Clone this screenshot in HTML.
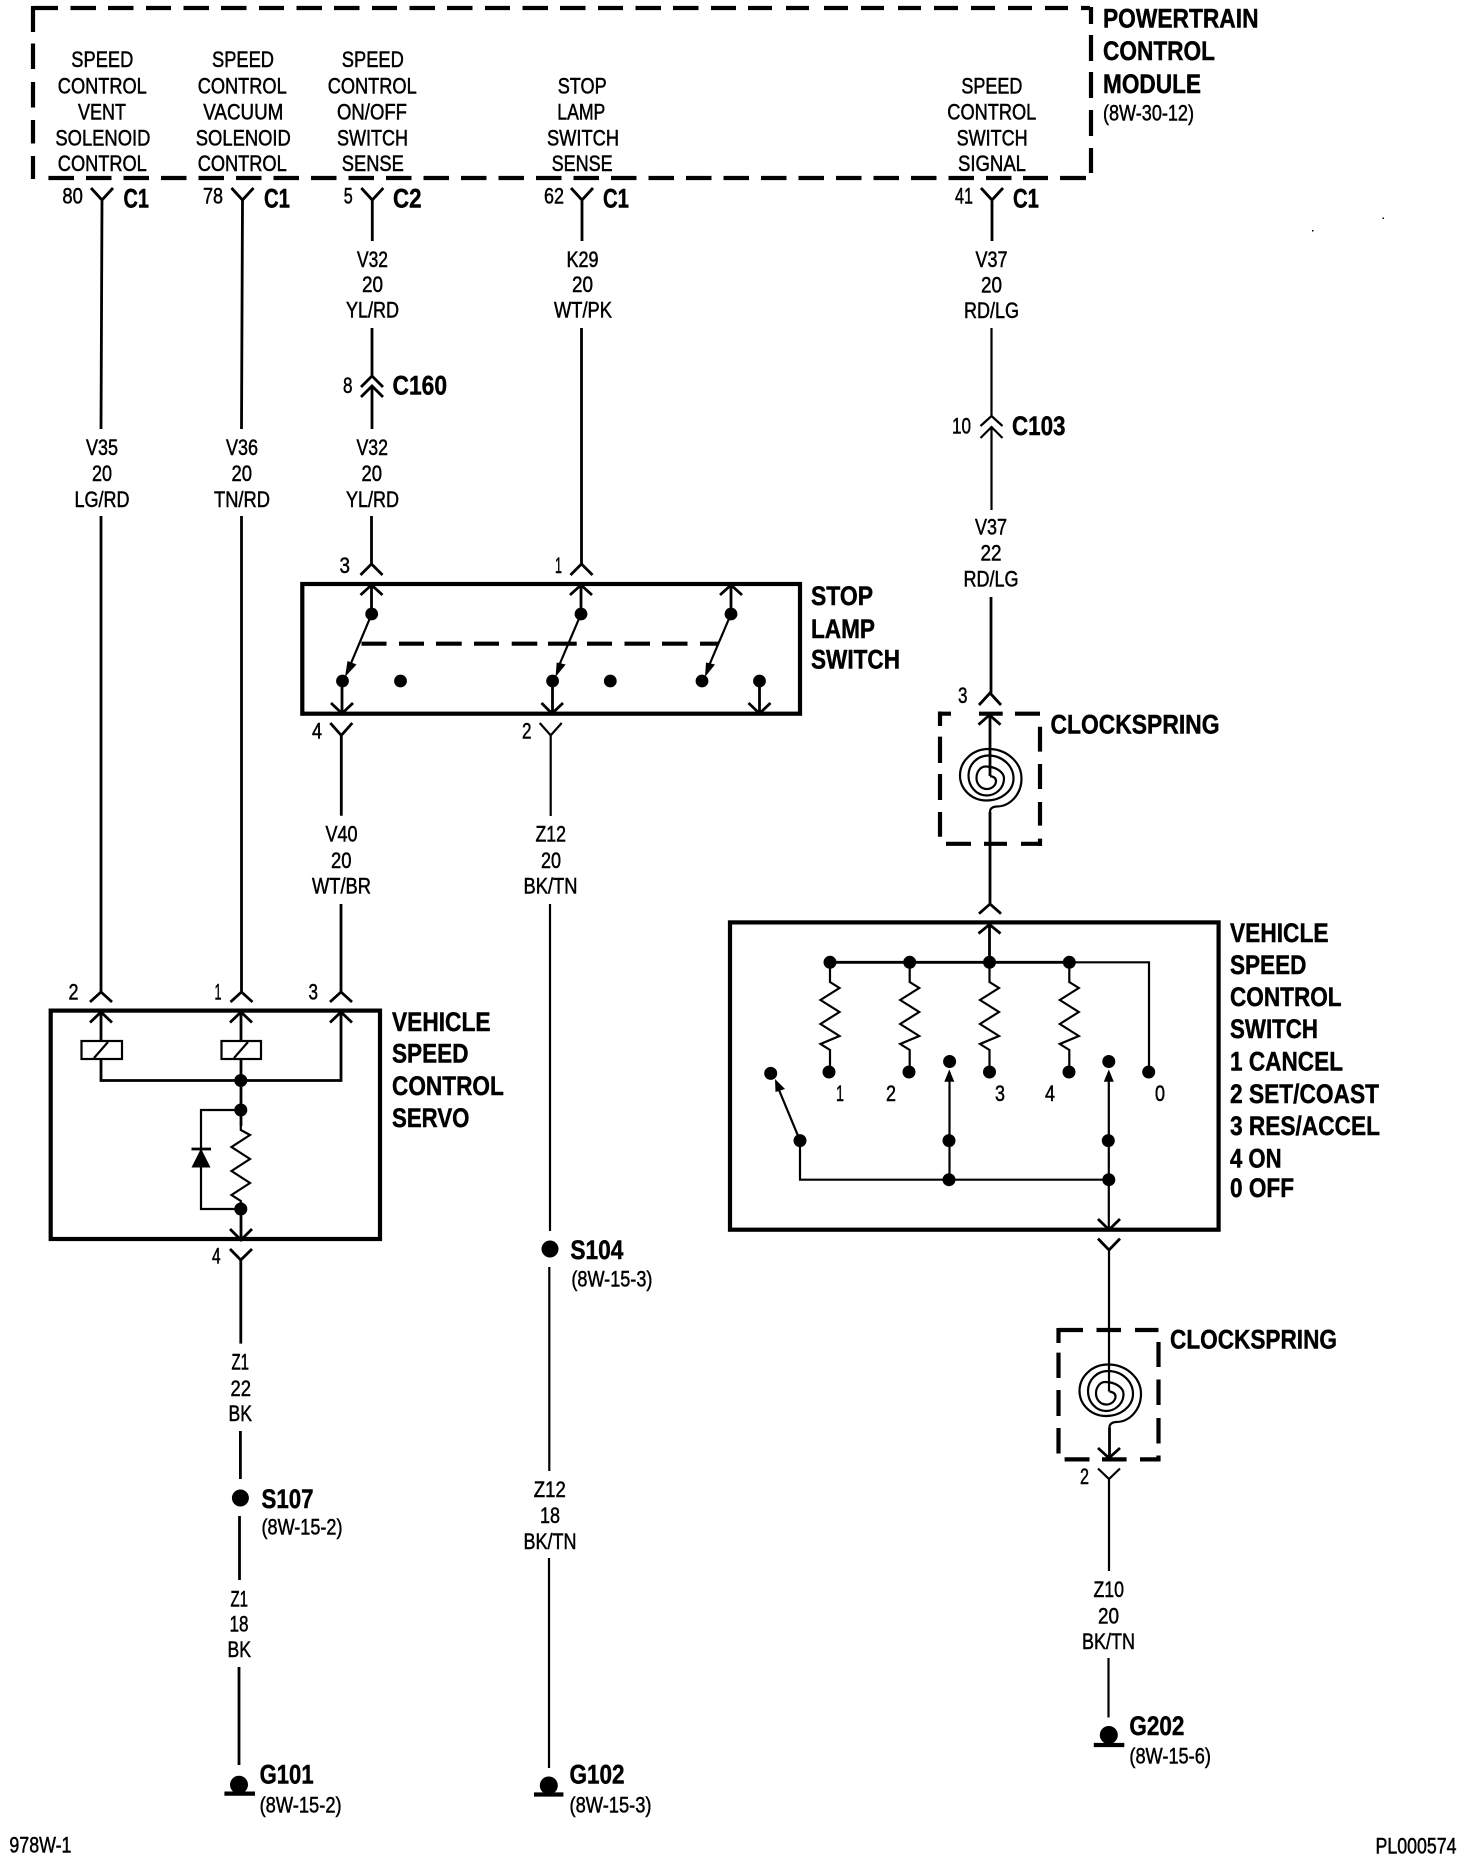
<!DOCTYPE html>
<html><head><meta charset="utf-8"><style>
html,body{margin:0;padding:0;background:#fff}
svg{display:block}
text{fill:#000;font-family:"Liberation Sans",sans-serif;}
.t{font-size:22px;stroke:#000;stroke-width:.5}
.b{font-size:26.5px;font-weight:bold;stroke:#000;stroke-width:.45}
.w{fill:none;stroke:#000;stroke-width:2.8}
.n{fill:none;stroke:#000;stroke-width:2.2}
.k{fill:none;stroke:#000;stroke-width:4.2}
.d{fill:none;stroke:#000;stroke-width:4.2}
</style></head><body>
<svg width="1472" height="1860" viewBox="0 0 1472 1860" xmlns="http://www.w3.org/2000/svg">
<rect width="1472" height="1860" fill="#fff"/>
<!-- PCM dashed box -->
<path class="d" d="M33 8H58M70.500 8H96M108 8H133.500M146 8H171M183.500 8H209M221 8H246.500M259 8H284M296.500 8H322M334 8H359.500M372 8H397M409.500 8H435M447 8H472.500M485 8H510M522.500 8H548M560 8H585.500M598 8H623M635.500 8H661M673 8H698.500M711 8H736M748 8H772M786 8H809M824 8H848M861 8H884M898 8H921M934 8H958M971 8H995M1008 8H1032M1045 8H1068M1081 8H1090"/>
<path class="d" d="M48.400 178H74M86 178H111.500M123.500 178H149M161 178H186.500M198.500 178H224M236 178H261.500M273.500 178H299M311 178H336.500M348.500 178H374M386 178H411.500M423.500 178H449M461 178H486.500M498.500 178H524M536 178H561.500M573.500 178H599M611 178H636.500M648.500 178H674M686 178H711.500M723.500 178H749M761 178H786.500M798.500 178H824M836 178H861.500M873.500 178H899M911 178H936.500M948.500 178H974M986 178H1011.500M1023 178H1048M1060 178H1086"/>
<path class="d" d="M33 6V32M33 43.500V69M33 82V107.500M33 120V143.500M33 156V179"/>
<path class="d" d="M1091 7V24M1091 35V61M1091 72V98M1091 110V136M1091 148V173"/>
<!-- PCM text -->
<g class="t">
<text x="71.300" y="67" textLength="62" lengthAdjust="spacingAndGlyphs">SPEED</text>
<text x="57.800" y="93.700" textLength="89" lengthAdjust="spacingAndGlyphs">CONTROL</text>
<text x="78" y="119.400" textLength="48" lengthAdjust="spacingAndGlyphs">VENT</text>
<text x="55.400" y="145.500" textLength="95" lengthAdjust="spacingAndGlyphs">SOLENOID</text>
<text x="57.800" y="171" textLength="89" lengthAdjust="spacingAndGlyphs">CONTROL</text>
<text x="212" y="67" textLength="62" lengthAdjust="spacingAndGlyphs">SPEED</text>
<text x="197.700" y="93.700" textLength="89" lengthAdjust="spacingAndGlyphs">CONTROL</text>
<text x="203.300" y="119.400" textLength="80" lengthAdjust="spacingAndGlyphs">VACUUM</text>
<text x="195.800" y="145.500" textLength="95" lengthAdjust="spacingAndGlyphs">SOLENOID</text>
<text x="197.700" y="171" textLength="89" lengthAdjust="spacingAndGlyphs">CONTROL</text>
<text x="341.800" y="67" textLength="62" lengthAdjust="spacingAndGlyphs">SPEED</text>
<text x="327.700" y="93.700" textLength="89" lengthAdjust="spacingAndGlyphs">CONTROL</text>
<text x="337" y="119.400" textLength="70" lengthAdjust="spacingAndGlyphs">ON/OFF</text>
<text x="337" y="145.500" textLength="71" lengthAdjust="spacingAndGlyphs">SWITCH</text>
<text x="341.800" y="171" textLength="62" lengthAdjust="spacingAndGlyphs">SENSE</text>
<text x="557.700" y="93.700" textLength="49" lengthAdjust="spacingAndGlyphs">STOP</text>
<text x="557.300" y="119.400" textLength="48" lengthAdjust="spacingAndGlyphs">LAMP</text>
<text x="547" y="145.500" textLength="72" lengthAdjust="spacingAndGlyphs">SWITCH</text>
<text x="551.600" y="171" textLength="61" lengthAdjust="spacingAndGlyphs">SENSE</text>
<text x="961.400" y="93.700" textLength="61" lengthAdjust="spacingAndGlyphs">SPEED</text>
<text x="947.300" y="119.400" textLength="89" lengthAdjust="spacingAndGlyphs">CONTROL</text>
<text x="956.600" y="145.500" textLength="71" lengthAdjust="spacingAndGlyphs">SWITCH</text>
<text x="958" y="171" textLength="68" lengthAdjust="spacingAndGlyphs">SIGNAL</text>
<text x="1103" y="120.600" textLength="91" lengthAdjust="spacingAndGlyphs">(8W-30-12)</text>
<!-- pin numbers -->
<text x="62.400" y="203.600" textLength="20.500" lengthAdjust="spacingAndGlyphs">80</text>
<text x="203" y="203.600" textLength="20" lengthAdjust="spacingAndGlyphs">78</text>
<text x="343.700" y="203.600" textLength="9" lengthAdjust="spacingAndGlyphs">5</text>
<text x="544" y="203.600" textLength="20" lengthAdjust="spacingAndGlyphs">62</text>
<text x="955" y="203.600" textLength="18" lengthAdjust="spacingAndGlyphs">41</text>
<text x="343" y="393" textLength="9.500" lengthAdjust="spacingAndGlyphs">8</text>
<text x="952" y="433.700" textLength="19" lengthAdjust="spacingAndGlyphs">10</text>
<text x="339.500" y="573" textLength="10.500" lengthAdjust="spacingAndGlyphs">3</text>
<text x="555" y="573" textLength="7" lengthAdjust="spacingAndGlyphs">1</text>
<text x="958" y="703" textLength="9.500" lengthAdjust="spacingAndGlyphs">3</text>
<text x="312" y="738.600" textLength="10" lengthAdjust="spacingAndGlyphs">4</text>
<text x="522" y="738.600" textLength="9.500" lengthAdjust="spacingAndGlyphs">2</text>
<text x="68.500" y="999.500" textLength="10" lengthAdjust="spacingAndGlyphs">2</text>
<text x="214.500" y="999.500" textLength="7" lengthAdjust="spacingAndGlyphs">1</text>
<text x="308.500" y="999.500" textLength="9.500" lengthAdjust="spacingAndGlyphs">3</text>
<text x="212" y="1263.700" textLength="8.600" lengthAdjust="spacingAndGlyphs">4</text>
<text x="1080" y="1484" textLength="9" lengthAdjust="spacingAndGlyphs">2</text>
<text x="836" y="1101" textLength="8" lengthAdjust="spacingAndGlyphs">1</text>
<text x="886" y="1101" textLength="10" lengthAdjust="spacingAndGlyphs">2</text>
<text x="995" y="1101" textLength="10" lengthAdjust="spacingAndGlyphs">3</text>
<text x="1045" y="1101" textLength="10" lengthAdjust="spacingAndGlyphs">4</text>
<text x="1155" y="1101" textLength="10" lengthAdjust="spacingAndGlyphs">0</text>
<!-- wire labels -->
<text x="86" y="455" textLength="32" lengthAdjust="spacingAndGlyphs">V35</text>
<text x="92" y="481" textLength="20" lengthAdjust="spacingAndGlyphs">20</text>
<text x="74.500" y="507" textLength="55" lengthAdjust="spacingAndGlyphs">LG/RD</text>
<text x="226" y="455" textLength="32" lengthAdjust="spacingAndGlyphs">V36</text>
<text x="231.500" y="481" textLength="20.500" lengthAdjust="spacingAndGlyphs">20</text>
<text x="214" y="507" textLength="56" lengthAdjust="spacingAndGlyphs">TN/RD</text>
<text x="357" y="267" textLength="31" lengthAdjust="spacingAndGlyphs">V32</text>
<text x="362" y="292" textLength="21" lengthAdjust="spacingAndGlyphs">20</text>
<text x="346" y="317.500" textLength="53" lengthAdjust="spacingAndGlyphs">YL/RD</text>
<text x="356.500" y="455" textLength="31.500" lengthAdjust="spacingAndGlyphs">V32</text>
<text x="361.500" y="481" textLength="20.500" lengthAdjust="spacingAndGlyphs">20</text>
<text x="346" y="507" textLength="53" lengthAdjust="spacingAndGlyphs">YL/RD</text>
<text x="566.500" y="267" textLength="32" lengthAdjust="spacingAndGlyphs">K29</text>
<text x="572" y="292" textLength="21" lengthAdjust="spacingAndGlyphs">20</text>
<text x="554" y="317.500" textLength="58" lengthAdjust="spacingAndGlyphs">WT/PK</text>
<text x="975.500" y="267" textLength="32" lengthAdjust="spacingAndGlyphs">V37</text>
<text x="981" y="292.600" textLength="21" lengthAdjust="spacingAndGlyphs">20</text>
<text x="964" y="318" textLength="55" lengthAdjust="spacingAndGlyphs">RD/LG</text>
<text x="975" y="534.600" textLength="32" lengthAdjust="spacingAndGlyphs">V37</text>
<text x="980.500" y="560.700" textLength="21" lengthAdjust="spacingAndGlyphs">22</text>
<text x="963.500" y="586.400" textLength="55" lengthAdjust="spacingAndGlyphs">RD/LG</text>
<text x="325.500" y="841.300" textLength="32" lengthAdjust="spacingAndGlyphs">V40</text>
<text x="331" y="868" textLength="20.500" lengthAdjust="spacingAndGlyphs">20</text>
<text x="312" y="893.500" textLength="59" lengthAdjust="spacingAndGlyphs">WT/BR</text>
<text x="535.500" y="841.300" textLength="30.500" lengthAdjust="spacingAndGlyphs">Z12</text>
<text x="541" y="868" textLength="20" lengthAdjust="spacingAndGlyphs">20</text>
<text x="523.500" y="893.500" textLength="54" lengthAdjust="spacingAndGlyphs">BK/TN</text>
<text x="231.500" y="1369.600" textLength="17.500" lengthAdjust="spacingAndGlyphs">Z1</text>
<text x="230.500" y="1396" textLength="20.500" lengthAdjust="spacingAndGlyphs">22</text>
<text x="228.500" y="1421" textLength="23.500" lengthAdjust="spacingAndGlyphs">BK</text>
<text x="230.500" y="1606.500" textLength="17.500" lengthAdjust="spacingAndGlyphs">Z1</text>
<text x="229.500" y="1631.500" textLength="19" lengthAdjust="spacingAndGlyphs">18</text>
<text x="227.500" y="1657" textLength="23.500" lengthAdjust="spacingAndGlyphs">BK</text>
<text x="533.800" y="1497" textLength="32" lengthAdjust="spacingAndGlyphs">Z12</text>
<text x="540" y="1523" textLength="20" lengthAdjust="spacingAndGlyphs">18</text>
<text x="523.500" y="1549" textLength="53" lengthAdjust="spacingAndGlyphs">BK/TN</text>
<text x="1093.500" y="1597" textLength="30.500" lengthAdjust="spacingAndGlyphs">Z10</text>
<text x="1098" y="1623.400" textLength="21" lengthAdjust="spacingAndGlyphs">20</text>
<text x="1082" y="1649" textLength="53" lengthAdjust="spacingAndGlyphs">BK/TN</text>
<text x="261.500" y="1534.500" textLength="81" lengthAdjust="spacingAndGlyphs">(8W-15-2)</text>
<text x="571.400" y="1286.600" textLength="81" lengthAdjust="spacingAndGlyphs">(8W-15-3)</text>
<text x="259.600" y="1812.500" textLength="82" lengthAdjust="spacingAndGlyphs">(8W-15-2)</text>
<text x="569.500" y="1812.500" textLength="82" lengthAdjust="spacingAndGlyphs">(8W-15-3)</text>
<text x="1129.400" y="1763.700" textLength="81.500" lengthAdjust="spacingAndGlyphs">(8W-15-6)</text>
<text x="9.400" y="1852.700" textLength="62" lengthAdjust="spacingAndGlyphs">978W-1</text>
<text x="1375.500" y="1853.400" textLength="81" lengthAdjust="spacingAndGlyphs">PL000574</text>
</g>
<g class="b">
<text x="1103" y="27.700" textLength="155.500" lengthAdjust="spacingAndGlyphs">POWERTRAIN</text>
<text x="1103" y="60" textLength="112" lengthAdjust="spacingAndGlyphs">CONTROL</text>
<text x="1103" y="93" textLength="98" lengthAdjust="spacingAndGlyphs">MODULE</text>
<text x="123.500" y="207.600" textLength="25.500" lengthAdjust="spacingAndGlyphs">C1</text>
<text x="264" y="207.600" textLength="26" lengthAdjust="spacingAndGlyphs">C1</text>
<text x="393" y="207.600" textLength="28.500" lengthAdjust="spacingAndGlyphs">C2</text>
<text x="603" y="207.600" textLength="26" lengthAdjust="spacingAndGlyphs">C1</text>
<text x="1013" y="207.600" textLength="26" lengthAdjust="spacingAndGlyphs">C1</text>
<text x="392.500" y="394.600" textLength="54.500" lengthAdjust="spacingAndGlyphs">C160</text>
<text x="1012" y="435" textLength="53.500" lengthAdjust="spacingAndGlyphs">C103</text>
<text x="811" y="605" textLength="62" lengthAdjust="spacingAndGlyphs">STOP</text>
<text x="811" y="638" textLength="64" lengthAdjust="spacingAndGlyphs">LAMP</text>
<text x="811" y="668.600" textLength="89" lengthAdjust="spacingAndGlyphs">SWITCH</text>
<text x="1050.500" y="733.500" textLength="169" lengthAdjust="spacingAndGlyphs">CLOCKSPRING</text>
<text x="1170" y="1348.700" textLength="167" lengthAdjust="spacingAndGlyphs">CLOCKSPRING</text>
<text x="392" y="1031" textLength="98.500" lengthAdjust="spacingAndGlyphs">VEHICLE</text>
<text x="392" y="1062.700" textLength="76.500" lengthAdjust="spacingAndGlyphs">SPEED</text>
<text x="392" y="1095" textLength="111.800" lengthAdjust="spacingAndGlyphs">CONTROL</text>
<text x="392" y="1127" textLength="77.500" lengthAdjust="spacingAndGlyphs">SERVO</text>
<text x="1230" y="942" textLength="98.500" lengthAdjust="spacingAndGlyphs">VEHICLE</text>
<text x="1230" y="973.800" textLength="76.400" lengthAdjust="spacingAndGlyphs">SPEED</text>
<text x="1230" y="1006" textLength="111.600" lengthAdjust="spacingAndGlyphs">CONTROL</text>
<text x="1230" y="1038" textLength="88" lengthAdjust="spacingAndGlyphs">SWITCH</text>
<text x="1230" y="1070.600" textLength="113" lengthAdjust="spacingAndGlyphs">1 CANCEL</text>
<text x="1230" y="1103" textLength="149" lengthAdjust="spacingAndGlyphs">2 SET/COAST</text>
<text x="1230" y="1135" textLength="150" lengthAdjust="spacingAndGlyphs">3 RES/ACCEL</text>
<text x="1230" y="1167.500" textLength="51.600" lengthAdjust="spacingAndGlyphs">4 ON</text>
<text x="1230" y="1197" textLength="64" lengthAdjust="spacingAndGlyphs">0 OFF</text>
<text x="261.500" y="1508" textLength="52" lengthAdjust="spacingAndGlyphs">S107</text>
<text x="570.400" y="1259" textLength="53" lengthAdjust="spacingAndGlyphs">S104</text>
<text x="259.600" y="1783.500" textLength="54" lengthAdjust="spacingAndGlyphs">G101</text>
<text x="569.500" y="1783.500" textLength="55" lengthAdjust="spacingAndGlyphs">G102</text>
<text x="1129.400" y="1735" textLength="55" lengthAdjust="spacingAndGlyphs">G202</text>
</g>
<!-- top Y connectors + wires -->
<path class="w" d="M91 188L102 200L113 188M102 200L101 429M231.500 188L242.500 200L253.500 188M242.500 200L241.500 429M361.300 188L372.300 200L383.300 188M372.300 200V241M571 188L582 200L593 188M582 200V241M981 188L992 200L1003 188M992 200V241"/>
<path class="w" d="M372 328V376M361 387L372 376L383 387M361 397L372 386L383 397M372 386V429"/>
<path class="n" stroke-width="2.500" d="M991.500 328V416M980.500 426L991.500 416L1002.500 426M980.500 438L991.500 427L1002.500 438M991.500 427V510"/>
<path class="w" d="M101 516V992M90 1002L101 992L112 1002"/>
<path class="w" d="M241.500 516V992M230.500 1002L241.500 992L252.500 1002"/>
<path class="w" d="M371.500 516V564M360.500 575L371.500 564L382.500 575"/>
<path class="w" d="M581.500 328V564M570.500 575L581.500 564L592.500 575"/>
<path class="w" d="M991 597V693M979 705L990 693L1001 705"/>
<!-- Stop lamp switch -->
<rect x="302.300" y="584" width="497.700" height="129.700" class="k"/>
<path class="w" d="M360.500 595L371.500 585L382.500 595M371.500 585V614M570 595L581 585L592 595M581 585V614M720 595L731 585L742 595M731 585V614"/>
<g fill="#000">
<circle cx="371.700" cy="614" r="6.400"/><circle cx="581" cy="614" r="6.400"/><circle cx="731" cy="614" r="6.400"/>
<circle cx="342.500" cy="681" r="6.400"/><circle cx="400.500" cy="681" r="6.400"/><circle cx="552.600" cy="681" r="6.400"/><circle cx="610.300" cy="681" r="6.400"/><circle cx="702" cy="681" r="6.400"/><circle cx="759.500" cy="681" r="6.400"/>
<path d="M345 677L347.500 661L356.500 664.500ZM555.500 677L556.700 662.500L565.700 664.500ZM705 677L706 662.500L715 664.500Z"/>
</g>
<path class="n" stroke-width="2.500" d="M371.700 614L349 668M581 614L558 668M731 614L708 668"/>
<path class="d" d="M361.500 643.700H386.500M399 643.700H424M436 643.700H461.700M474 643.700H499M511.700 643.700H537.300M548 643.700H576.700M587 643.700H612M624.500 643.700H650M662 643.700H687.500M700 643.700H718"/>
<path class="w" d="M342 681V713M331 703L342 713.500L353 703M552.500 681V713M541.500 703L552 713.500L563 703M759.500 681V713M748.500 703L759.500 713.500L770.500 703"/>
<path class="w" d="M330.300 723L341.300 735.400L352.300 723M341.300 735.400V815.700M341 904V992M330 1002L341 992L352 1002"/>
<path class="n" stroke-width="2.500" d="M539.700 723L550.700 735.400L561.700 723M550.700 735.400V816M550 904V1231"/>
<!-- Servo -->
<rect x="50.700" y="1010.600" width="329.300" height="228.400" class="k"/>
<path class="w" d="M90 1022.500L101 1012L112 1022.500M101 1012V1041M101 1059V1080.500H341V1012M230 1022.500L241 1012L252 1022.500M241 1012V1041M241 1059V1240M330 1022.500L341 1012L352 1022.500"/>
<rect x="81.500" y="1041" width="40.500" height="18" class="n" stroke-width="2.500"/>
<rect x="221.500" y="1041" width="39.500" height="18" class="n" stroke-width="2.500"/>
<path class="n" d="M94 1058L108 1042M234 1058L248 1042"/>
<rect x="232" y="1126" width="18" height="76" fill="#fff"/>
<path class="n" d="M240.800 1126V1130L250 1135L231.500 1147L250 1159L231.500 1171L250 1183L231.500 1195L240.800 1201V1205"/>
<path class="n" d="M240 1110H201V1209H240"/>
<path fill="#000" d="M201 1148.500L210.500 1167.500H191.500Z"/>
<path class="w" d="M191.500 1149H211"/>
<g fill="#000"><circle cx="240.800" cy="1080.500" r="6.500"/><circle cx="240.800" cy="1110" r="6.500"/><circle cx="240.800" cy="1209" r="6.500"/></g>
<path class="w" d="M230 1229L241 1240L252 1229"/>
<path class="w" d="M230 1249L240.800 1260L252 1249M240.800 1260V1343.600M240.400 1431V1479M239.500 1516V1580M239 1667V1765"/>
<circle cx="240.400" cy="1498" r="8.500" fill="#000"/>
<circle cx="239" cy="1784.700" r="9" fill="#000"/>
<path class="k" d="M224.400 1793.600H255"/>
<!-- S104 line -->
<circle cx="550" cy="1249" r="8.500" fill="#000"/>
<path class="n" stroke-width="2.500" d="M549.300 1267V1471M549 1558V1768"/>
<circle cx="548.800" cy="1785.500" r="9" fill="#000"/>
<path class="k" d="M534 1794.500H563.400"/>
<!-- Clockspring 1 -->
<path class="d" d="M940 713.700H951M979 713.700H1002.700M1015 713.700H1040M946 843.800H971M984 843.800H1007M1021 843.800H1041M940 711.500V726M940 736.600V763M940 774V800M940 812V836.700M1040 726.700V751.600M1040 764V789M1040 802V825.600M1040 838.600V846"/>
<path class="w" d="M978.500 724.700L989.500 715L1000.500 724.700M990 715V776"/>
<path class="n" stroke-width="2.400" d="M990 776Q996 777 996 781A9.500 8 0 0 1 986.500 789A10 11 0 0 1 976.500 778A9 11.500 0 0 1 985.500 766.500A18.500 12 0 0 1 1004 778.500A17.500 17 0 0 1 986.500 795.500A18 20 0 0 1 968.500 775.500A20 20 0 0 1 988.500 755.500A25 23 0 0 1 1013.500 778.500A27 22 0 0 1 986.500 800.500A26.500 25 0 0 1 960 775.500A28.500 26.500 0 0 1 988.500 749A33 29.500 0 0 1 1021.500 778.500A25 28 0 0 1 996.500 806.500Q990 807 990 812"/>
<path class="w" d="M990 812V904M979 913.700L990 904L1001 913.700"/>
<!-- Vehicle speed control switch -->
<rect x="730" y="922.400" width="488.600" height="307.300" class="k"/>
<path class="w" d="M978.500 933.500L989.500 924.500L1000.500 933.500M989.500 924.500V962M830 962.300H1069"/>
<path class="n" d="M1069 962.300H1149V1072"/>
<path class="n" stroke-width="2.500" d="M830 962V982L839.500 988L820.500 1000L839.500 1012L820.500 1024L839.500 1036L820.500 1044L830 1050V1072"/>
<path class="n" stroke-width="2.500" d="M909.700 962V982L919.200 988L900.200 1000L919.200 1012L900.200 1024L919.200 1036L900.200 1044L909.700 1050V1072"/>
<path class="n" stroke-width="2.500" d="M989.500 962V982L999 988L980 1000L999 1012L980 1024L999 1036L980 1044L989.500 1050V1072"/>
<path class="n" stroke-width="2.500" d="M1069.300 962V982L1078.800 988L1059.800 1000L1078.800 1012L1059.800 1024L1078.800 1036L1059.800 1044L1069.300 1050V1072"/>
<g fill="#000">
<circle cx="830" cy="962.300" r="6.500"/><circle cx="909.700" cy="962.300" r="6.500"/><circle cx="989.500" cy="962.300" r="6.500"/><circle cx="1069.300" cy="962.300" r="6.500"/>
<circle cx="829" cy="1072" r="6.500"/><circle cx="909" cy="1072" r="6.500"/><circle cx="989.500" cy="1072" r="6.500"/><circle cx="1069" cy="1072" r="6.500"/><circle cx="1148.700" cy="1072" r="6.500"/>
<circle cx="770.700" cy="1073.400" r="6.500"/><circle cx="949.600" cy="1061.500" r="6.500"/><circle cx="1108.800" cy="1061.500" r="6.500"/>
<circle cx="800" cy="1140.600" r="6.500"/><circle cx="949" cy="1140.600" r="6.500"/><circle cx="1108.300" cy="1140.600" r="6.500"/>
<circle cx="949" cy="1179.700" r="6.500"/><circle cx="1108.800" cy="1179.700" r="6.500"/>
<path d="M775 1079L775.500 1092L785 1089ZM949.300 1069.500L954.300 1081.700H944.300ZM1108.800 1069.500L1113.800 1081.700H1103.800Z"/>
</g>
<path class="n" stroke-width="2.500" d="M800 1140.600L779 1090M949.500 1072V1179.700M1108.800 1072V1229.700M800 1140.600V1179.700H1108.800"/>
<path class="w" d="M1098 1219L1109 1229.700L1120 1219M1098 1238.600L1109 1250L1120 1238.600"/>
<path class="n" stroke-width="2.500" d="M1109 1250V1391.500"/>
<!-- Clockspring 2 -->
<path class="d" d="M1058.500 1330H1083M1096.500 1330H1121M1135 1330H1158.500M1064.600 1459.400H1089.500M1102 1459.400H1126.600M1140 1459.400H1160.500M1058.500 1328V1343M1058.500 1352.600V1378M1058.500 1390V1416M1058.500 1428V1453.500M1158.500 1342V1367M1158.500 1379.500V1405M1158.500 1418V1443.500M1158.500 1455.500V1461"/>
<g transform="translate(119.500 615.500)">
<path class="n" stroke-width="2.400" d="M990 776Q996 777 996 781A9.500 8 0 0 1 986.500 789A10 11 0 0 1 976.500 778A9 11.500 0 0 1 985.500 766.500A18.500 12 0 0 1 1004 778.500A17.500 17 0 0 1 986.500 795.500A18 20 0 0 1 968.500 775.500A20 20 0 0 1 988.500 755.500A25 23 0 0 1 1013.500 778.500A27 22 0 0 1 986.500 800.500A26.500 25 0 0 1 960 775.500A28.500 26.500 0 0 1 988.500 749A33 29.500 0 0 1 1021.500 778.500A25 28 0 0 1 996.500 806.500Q990 807 990 812"/>
</g>
<path class="w" d="M1109.500 1427.500V1458M1098 1448L1109 1458L1120 1448"/>
<path class="n" stroke-width="2.500" d="M1098 1468.500L1109 1479L1120 1468.500M1109 1479V1571M1108.500 1658V1717.500"/>
<circle cx="1108.800" cy="1735" r="9" fill="#000"/>
<path class="k" d="M1093.800 1745H1124.300"/>
<!-- specks -->
<rect x="1382.500" y="217.500" width="1.500" height="1.500" fill="#000"/>
<rect x="1312" y="230" width="1.500" height="1.500" fill="#000"/>
</svg>
</body></html>
